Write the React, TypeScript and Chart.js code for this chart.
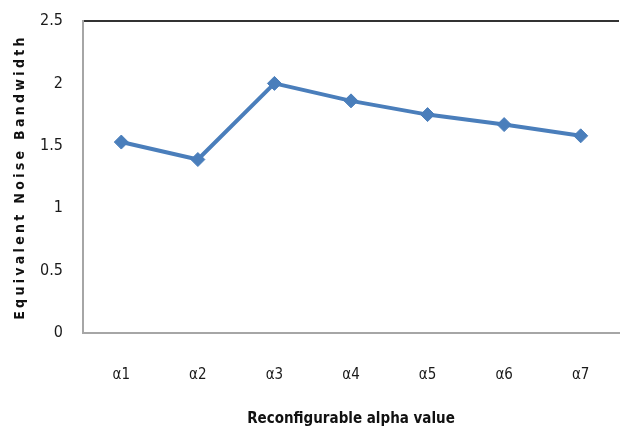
import React, { useEffect, useRef } from "react";
import { Chart, registerables } from "chart.js";

Chart.register(...registerables);

const categories = ["α1", "α2", "α3", "α4", "α5", "α6", "α7"];
const bandwidth = [1.53, 1.39, 2.0, 1.86, 1.75, 1.67, 1.58];
const yTicks = [0, 0.5, 1, 1.5, 2, 2.5];
const yTitle = "Equivalent Noise Bandwidth";
const xTitle = "Reconfigurable alpha value";

const FONT = "'DejaVu Sans Condensed', 'DejaVu Sans', sans-serif";

const yTitlePlugin = {
  id: "yTitleSpaced",
  afterDraw(chart: any) {
    const { ctx, chartArea } = chart;
    ctx.save();
    ctx.font = `bold 14px ${FONT}`;
    (ctx as any).letterSpacing = "3.3px";
    ctx.fillStyle = "#111";
    ctx.textAlign = "center";
    ctx.textBaseline = "middle";
    ctx.translate(20, (chartArea.top + chartArea.bottom) / 2);
    ctx.rotate(-Math.PI / 2);
    ctx.fillText(yTitle, 0, 0);
    ctx.restore();
  },
};

export default function App() {
  const ref = useRef<HTMLCanvasElement | null>(null);

  useEffect(() => {
    document.body.style.margin = "0";
    const canvas = ref.current;
    if (!canvas) return;
    const chart = new Chart(canvas, {
      type: "line",
      data: {
        labels: categories,
        datasets: [
          {
            data: bandwidth,
            borderColor: "#4a7ebb",
            backgroundColor: "#4a7ebb",
            borderWidth: 4,
            pointStyle: "rectRot",
            pointRadius: 7,
            pointBorderWidth: 1,
            pointBackgroundColor: "#4a7ebb",
            pointBorderColor: "#4a7ebb",
            tension: 0,
          },
        ],
      },
      options: {
        animation: false,
        responsive: false,
        maintainAspectRatio: false,
        layout: { padding: { top: 21, left: 0, right: 0, bottom: 0 } },
        plugins: { legend: { display: false }, tooltip: { enabled: false } },
        scales: {
          x: {
            offset: true,
            grid: { display: false, drawTicks: false },
            border: { display: true, color: "#a6a6a6", width: 2 },
            ticks: {
              color: "#1a1a1a",
              font: { family: FONT, size: 15 },
              padding: 33,
              maxRotation: 0,
            },
            title: {
              display: true,
              text: xTitle,
              color: "#111",
              font: { family: FONT, size: 15, weight: "bold" },
              padding: { top: 0, bottom: 4 },
            },
            afterFit: (s: any) => {
              s.height = 99;
              s.paddingLeft = 0;
              s.paddingRight = 0;
            },
          },
          y: {
            min: 0,
            max: 2.5,
            afterBuildTicks: (s: any) => {
              s.ticks = yTicks.map((v) => ({ value: v }));
            },
            grid: {
              drawTicks: false,
              lineWidth: 2,
              color: (ctx: any) =>
                ctx.tick && ctx.tick.value === 2.5 ? "#333333" : "rgba(0,0,0,0)",
            },
            border: { display: true, color: "#a6a6a6", width: 2 },
            ticks: {
              color: "#1a1a1a",
              font: { family: FONT, size: 16 },
              padding: 20,
              callback: (v: any) => String(v),
            },
            title: { display: false },
            afterFit: (s: any) => {
              s.width = 83;
              s.paddingTop = 0;
              s.paddingBottom = 0;
            },
          },
        },
      },
      plugins: [yTitlePlugin],
    });
    return () => chart.destroy();
  }, []);

  return (
    <div style={{ width: 621, height: 432, overflow: "hidden", position: "relative", background: "#fff" }}>
      <canvas ref={ref} width={627} height={432} style={{ display: "block" }} />
    </div>
  );
}
